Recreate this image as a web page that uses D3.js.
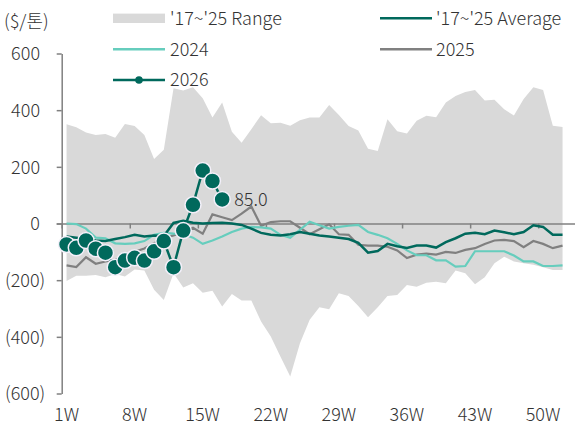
<!DOCTYPE html>
<html>
<head>
<meta charset="utf-8">
<script src="https://cdn.jsdelivr.net/npm/d3@7"></script>
<style>
  html, body { margin: 0; padding: 0; background: #fff; }
  svg { display: block; }
  text { font-family: "Noto Sans CJK KR", "Noto Sans", sans-serif; font-weight: 300; fill: #333; }
</style>
</head>
<body>
<svg id="chart" width="575" height="427"></svg>
<script>
// Weekly spread ($/ton): 2017~2025 min/max band, 9-year average, 2024, 2025 and year-to-date 2026
const weeks = d3.range(1, 53);
const rangeHigh = [350, 340, 321, 312, 316, 303, 351, 344, 312, 228, 260, 477, 469, 481, 442, 374, 427, 324, 285, 333,
  382, 354, 356, 345, 364, 374, 374, 418, 383, 344, 328, 264, 256, 368, 326, 318, 363, 380, 375, 427,
  450, 464, 471, 434, 437, 403, 381, 439, 481, 471, 345, 341];
const rangeLow = [-203, -184, -184, -182, -190, -178, -187, -162, -166, -234, -270, -176, -226, -211, -244, -237, -293, -249, -272, -272,
  -346, -399, -470, -540, -423, -340, -296, -303, -246, -256, -291, -331, -296, -256, -252, -217, -223, -209, -206, -211,
  -166, -176, -214, -190, -140, -117, -134, -140, -146, -154, -164, -164];
const average = [-46, -50, -55, -60, -62, -55, -48, -40, -46, -42, -44, 2, 10, 3, 0, 2, 3, 0, -5, -18,
  -33, -40, -42, -38, -30, -36, -42, -46, -50, -55, -68, -103, -97, -72, -80, -86, -78, -78, -85, -66,
  -52, -36, -33, -38, -25, -31, -38, -30, -6, -12, -40, -40];
const y2024 = [0, -2, -18, -50, -52, -70, -72, -70, -62, -40, -33, -36, -38, -50, -72, -60, -46, -30, -18, -12,
  -14, -18, -40, -50, -22, 6, -6, -18, -12, -8, -5, -30, -40, -52, -72, -95, -112, -112, -130, -130,
  -152, -150, -98, -98, -98, -98, -113, -134, -134, -150, -150, -148];
const y2025 = [-148, -154, -119, -142, -134, -128, -115, -100, -88, -70, -52, -42, -30, -15, -36, 32, 22, 12, 35, 60,
  -8, 5, 8, 8, -15, -38, -20, -3, -38, -40, -75, -78, -78, -82, -95, -122, -110, -106, -110, -100,
  -104, -93, -87, -72, -60, -58, -62, -84, -62, -72, -87, -78];
const y2026 = [-74, -86, -60, -89, -103, -154, -131, -121, -131, -98, -62, -154, -25, 66, 187, 150, 85];

const yTicks = [-600, -400, -200, 0, 200, 400, 600];
const xTickLabels = ["1W", "8W", "15W", "22W", "29W", "36W", "43W", "50W"];
const xLabelWeeks = [1, 8, 15, 22, 29, 36, 43, 50];
const unitLabel = "($/톤)";
const legendItems = ["'17~'25 Range", "'17~'25 Average", "2024", "2025", "2026"];

const C = { range: "#d9d9d9", avg: "#00695c", y24: "#66cdbd", y25: "#808080", axis: "#808080" };
const FS = "18px";

const svg = d3.select("#chart");
const left = 61.7, weekCount = 53;
// x: week slots (53 slots so the last week fits), value at slot centre
const xb = d3.scaleLinear().domain([0, weekCount]).range([left, left + weekCount * 9.725]);
const xc = w => xb(w - 0.5);
const y = d3.scaleLinear().domain([-600, 600]).range([393.5, 53.5]);

// Min/max band
const area = d3.area().x((d, i) => xc(weeks[i])).y0((d, i) => y(rangeLow[i])).y1((d, i) => y(rangeHigh[i]));
svg.append("path").attr("d", area(weeks)).attr("fill", C.range);

// y axis
const yAxis = svg.append("g").attr("transform", `translate(${left},0)`)
  .call(d3.axisLeft(y).tickValues(yTicks).tickSize(5).tickSizeOuter(0)
    .tickFormat(v => v < 0 ? `(${Math.abs(v)})` : `${v}`));
yAxis.select(".domain").attr("stroke", C.axis).attr("stroke-width", 1.5);
yAxis.selectAll(".tick line").attr("stroke", C.axis).attr("stroke-width", 1.5);
yAxis.selectAll(".tick text")
  .attr("x", v => v < 0 ? -16.5 : -21.7)
  .attr("dy", "0.35em")
  .style("font-size", FS).style("fill", "#333")
  .style("font-family", null).style("font-weight", null);
yAxis.attr("font-family", null).attr("font-size", null);

// Zero line with boundary ticks every 7 weeks
const xAxis = svg.append("g").attr("transform", `translate(0,${y(0)})`)
  .call(d3.axisBottom(xb).tickValues(d3.range(0, 50, 7)).tickSize(5).tickSizeOuter(0).tickFormat(""));
xAxis.select(".domain").attr("stroke", C.axis).attr("stroke-width", 1.5)
  .attr("d", `M${left - 5},0.5H575`);
xAxis.selectAll(".tick line").attr("stroke", C.axis).attr("stroke-width", 1.5);

// Week labels at the bottom of the plot
svg.append("g").selectAll("text").data(xLabelWeeks).join("text")
  .attr("x", w => xc(w)).attr("y", 415).attr("dy", "0.35em")
  .attr("text-anchor", "middle").style("font-size", FS)
  .text((w, i) => xTickLabels[i]);

// Lines
const line = arr => d3.line().x((d, i) => xc(weeks[i])).y(d => y(d))(arr);
svg.append("path").attr("d", line(y2025)).attr("fill", "none").attr("stroke", C.y25).attr("stroke-width", 2.2);
svg.append("path").attr("d", line(y2024)).attr("fill", "none").attr("stroke", C.y24).attr("stroke-width", 2.2);
svg.append("path").attr("d", line(average)).attr("fill", "none").attr("stroke", C.avg).attr("stroke-width", 2.5);

// 2026 with markers
svg.append("path").attr("d", line(y2026)).attr("fill", "none").attr("stroke", C.avg).attr("stroke-width", 2.5);
svg.append("g").selectAll("circle").data(y2026).join("circle")
  .attr("cx", (d, i) => xc(weeks[i])).attr("cy", d => y(d)).attr("r", 8)
  .attr("fill", C.avg).attr("stroke", "#f3f0fa").attr("stroke-width", 1.5);

// Latest value label
const lastIdx = y2026.length - 1;
svg.append("text").attr("x", xc(weeks[lastIdx]) + 12).attr("y", y(y2026[lastIdx])).attr("dy", "0.35em")
  .style("font-size", FS).text(y2026[lastIdx].toFixed(1));

// Unit
svg.append("text").attr("x", 4).attr("y", 22).attr("dy", "0.35em").style("font-size", FS).text(unitLabel);

// Legend
const lg = svg.append("g");
const rowY = [18.3, 49.3, 80];
lg.append("rect").attr("x", 113).attr("y", rowY[0] - 4.7).attr("width", 52).attr("height", 9.4).attr("fill", C.range);
lg.append("line").attr("x1", 380).attr("x2", 432).attr("y1", rowY[0]).attr("y2", rowY[0]).attr("stroke", C.avg).attr("stroke-width", 2.5);
lg.append("line").attr("x1", 113).attr("x2", 165).attr("y1", rowY[1]).attr("y2", rowY[1]).attr("stroke", C.y24).attr("stroke-width", 2.5);
lg.append("line").attr("x1", 380).attr("x2", 432).attr("y1", rowY[1]).attr("y2", rowY[1]).attr("stroke", C.y25).attr("stroke-width", 2.5);
lg.append("line").attr("x1", 113).attr("x2", 165).attr("y1", rowY[2]).attr("y2", rowY[2]).attr("stroke", C.avg).attr("stroke-width", 2.5);
lg.append("circle").attr("cx", 139).attr("cy", rowY[2]).attr("r", 3.8).attr("fill", C.avg);
const lgPos = [[170, rowY[0]], [436, rowY[0]], [170, rowY[1]], [436, rowY[1]], [170, rowY[2]]];
lg.selectAll("text").data(legendItems).join("text")
  .attr("x", (d, i) => lgPos[i][0]).attr("y", (d, i) => lgPos[i][1]).attr("dy", "0.35em")
  .style("font-size", FS).text(d => d);
</script>
</body>
</html>
